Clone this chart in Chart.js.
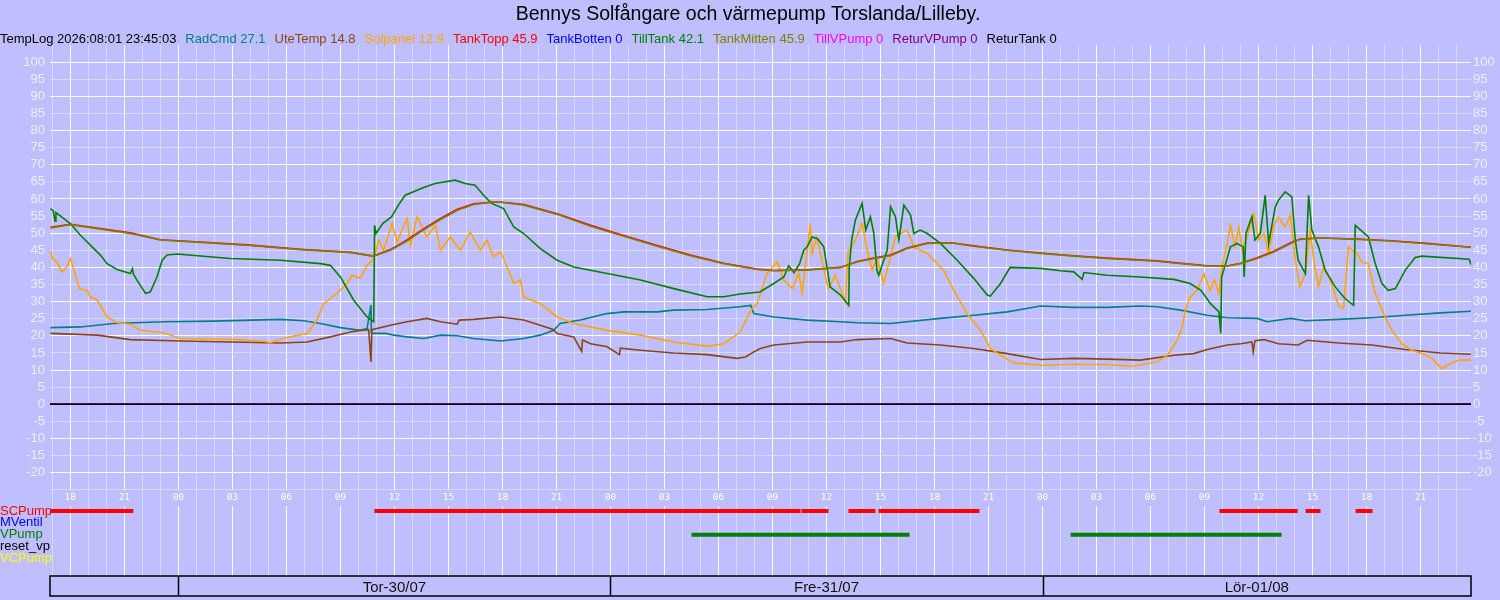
<!DOCTYPE html>
<html>
<head>
<meta charset="utf-8">
<title>Bennys Solfångare och värmepump</title>
<script src="https://cdn.jsdelivr.net/npm/chart.js@4/dist/chart.umd.min.js"></script>
<style>
  html, body { margin: 0; padding: 0; background: #bfbfff; }
  canvas { display: block; }
</style>
</head>
<body>
<canvas id="c" width="1500" height="600"></canvas>
<script>
// ── Texts ──
const TITLE   = 'Bennys Solfångare och värmepump Torslanda/Lilleby.';
const TEMPLOG = 'TempLog 2026:08:01 23:45:03';

// ── Time axis: hours counted from Tor-30/07 00:00 ──
const T_MIN = -7.13, T_MAX = 71.8;
const dayBounds = [0, 24, 48];
const dayNames  = ['Tor-30/07', 'Fre-31/07', 'Lör-01/08'];

// ── Legend ──
const seriesNames  = ['RadCmd', 'UteTemp', 'Solpanel', 'TankTopp', 'TankBotten', 'TillTank', 'TankMitten', 'TillVPump', 'ReturVPump', 'ReturTank'];
const seriesColors = ['#008080', '#8b4513', '#ffa500', '#ff0000', '#0000ff', '#008000', '#808000', '#ff00ff', '#800080', '#000000'];
const legendValues = [27.1, 14.8, 12.9, 45.9, 0, 42.1, 45.9, 0, 0, 0];

// ── Series ──
const radCmdT = [-7.1, -5.44, -3.6, -0.8, 1.96, 5.67, 6.96, 7.9, 9, 10.1, 10.48, 10.7, 10.72, 10.85, 11.5, 11.96, 12.7, 13.63, 14.56, 15.48, 16.4, 17.9, 19.18, 20.1, 20.85, 21.2, 22.33, 23.8, 24.74, 26.6, 27.5, 29.37, 31.2, 31.8, 31.96, 33.07, 34.93, 36.78, 37.7, 39.56, 40.48, 42.33, 44.18, 46.04, 47.9, 49.74, 51.6, 53.44, 54.37, 55.67, 57.15, 58.26, 59.93, 60.48, 61.78, 62.6, 64.44, 66.3, 68.15, 70.1, 71.8];
const radCmdV = [22.4, 22.6, 23.6, 24.1, 24.3, 24.8, 24.4, 23.6, 22.4, 21.6, 22.1, 29, 21, 20.7, 20.7, 20.2, 19.7, 19.2, 20.2, 20, 19.2, 18.5, 19.2, 20.2, 21.6, 23.6, 24.6, 26.5, 27, 27, 27.5, 27.7, 28.5, 28.9, 26.5, 25.5, 24.6, 24.1, 23.8, 23.6, 24.1, 25.1, 26, 27, 28.7, 28.3, 28.3, 28.7, 28.5, 27.5, 26, 25.3, 25.1, 24.1, 25.1, 24.4, 24.8, 25.3, 26, 26.7, 27.2];

const uteTempT = [-7.1, -4.5, -2.67, 0.1, 2.9, 5.67, 7.15, 8.44, 9.56, 10.1, 10.57, 10.7, 10.75, 11.78, 12.7, 13.8, 14.56, 15.48, 15.6, 16.4, 17.9, 19.18, 20.1, 20.85, 21.04, 21.96, 22.4, 22.45, 22.9, 23.82, 24.5, 24.55, 25.67, 27.5, 29.37, 31.04, 31.5, 31.96, 32.33, 33.07, 34.93, 36.78, 37.7, 39.56, 40.48, 42.33, 44.18, 46.04, 47.9, 49.74, 51.6, 53.44, 55.3, 56.4, 57.15, 58.26, 59, 59.63, 59.7, 59.8, 60.3, 61.1, 62.2, 62.7, 64.44, 66.3, 68.15, 70.1, 71.8];
const uteTempV = [20.7, 20.2, 18.9, 18.5, 18.2, 17.9, 18.2, 19.7, 21.1, 21.6, 21.8, 12.4, 21.8, 23.1, 24.1, 25.1, 24.1, 23.4, 24.6, 24.8, 25.5, 24.6, 23.1, 21.8, 20.7, 19.7, 15.5, 18.8, 17.7, 16.8, 14.5, 16.4, 15.8, 15, 14.5, 13.4, 13.8, 15.3, 16.3, 17.3, 18.2, 18.2, 18.9, 19.2, 17.9, 17.3, 16.3, 14.8, 13.1, 13.4, 13.2, 12.9, 14.3, 14.8, 16, 17.3, 17.7, 18.2, 15.3, 18.6, 18.9, 17.7, 17.3, 18.7, 17.9, 17.3, 16, 15, 14.6];

const solpanelT = [-7.1, -7.0, -6.74, -6.46, -6.2, -6.0, -5.8, -5.5, -5.07, -4.9, -4.5, -3.96, -3.4, -2.67, -2.1, -0.8, 0.1, 2.9, 4.7, 5.1, 6.2, 7.15, 7.7, 8.07, 8.8, 9.37, 9.65, 10.1, 10.48, 10.85, 11.13, 11.4, 11.87, 12.15, 12.7, 12.9, 13.26, 13.8, 14.28, 14.56, 15.1, 15.67, 16.2, 16.78, 17.15, 17.5, 17.9, 18.26, 18.63, 19.0, 19.18, 20.1, 21.04, 21.96, 23.82, 25.67, 27.5, 29.37, 30.3, 31.2, 31.8, 32.15, 32.7, 33.26, 33.63, 34.1, 34.46, 34.65, 35.1, 35.2, 35.46, 35.74, 36.1, 36.5, 37.04, 37.2, 37.6, 37.98, 38.26, 38.54, 38.8, 39.18, 39.46, 39.83, 40.1, 40.48, 40.85, 41.2, 41.6, 41.96, 42.5, 43.07, 43.8, 44.56, 45.1, 45.67, 46.4, 47.9, 49.74, 51.6, 53.07, 54.37, 54.93, 55.48, 55.76, 55.94, 56.2, 56.6, 56.96, 57.3, 57.55, 57.8, 58.0, 58.26, 58.44, 58.7, 58.9, 59.1, 59.37, 59.74, 60.0, 60.3, 60.56, 60.83, 61.1, 61.48, 61.76, 62.04, 62.3, 62.6, 62.87, 63.06, 63.33, 63.6, 63.98, 64.44, 64.72, 65.0, 65.2, 65.46, 65.74, 66.1, 66.48, 66.94, 67.4, 67.96, 68.5, 69.07, 69.63, 70.18, 70.65, 71.1, 71.8];
const solpanelV = [44.5, 42.6, 41.6, 38.7, 40.1, 42.6, 39.2, 33.8, 33.3, 31.4, 30.4, 25.5, 23.8, 23.4, 21.6, 20.9, 19.2, 19, 18.5, 18, 19.7, 20.7, 24.6, 29.4, 32.4, 35.3, 37.7, 36.8, 40.6, 42.6, 48, 45, 52.8, 47.5, 54.3, 46.5, 54.8, 48.9, 52.3, 45, 48.9, 45, 50.4, 45, 48, 43.1, 44.5, 40.1, 35.3, 36.3, 31.4, 29.4, 25.5, 23.6, 21.6, 20.2, 18.2, 17, 17.7, 21.1, 27.5, 29.4, 38.2, 41.6, 36.3, 33.8, 38.2, 32.4, 52.8, 44.1, 48.9, 42.1, 33.8, 37.7, 29.9, 44.5, 48, 52.8, 45, 39.2, 42.6, 35.3, 41.1, 48.9, 49.9, 50.9, 46, 45, 44.1, 42.1, 39.2, 33.3, 26.5, 21.6, 16.3, 14.3, 12.1, 11.4, 11.7, 11.6, 11.1, 12.4, 14.3, 18.7, 22.6, 27.5, 31.4, 33.3, 38.2, 33.3, 36.3, 32.4, 41.1, 47, 52.3, 46, 51.8, 45, 48.9, 55.8, 48, 49.9, 44.1, 51.8, 54.8, 51.8, 55.3, 42.1, 34.3, 38.2, 50.9, 42.1, 34.3, 40.1, 36.3, 28.9, 28, 46, 45, 44.1, 41.6, 41.1, 32.4, 26.5, 21.6, 17.7, 15.8, 14.8, 13.4, 10.4, 11.9, 12.9, 12.9];

const tankT = [-7.1, -6, -2.67, -1, 1.22, 4, 6.78, 9.56, 10.83, 11.78, 12.7, 13.6, 14.56, 15.5, 16.4, 17.7, 19.2, 21.04, 22.9, 24.74, 26.6, 28.44, 30.3, 32.15, 33.07, 34.93, 36.78, 37.7, 38.63, 39.56, 40.48, 41.6, 42.9, 44.18, 46.04, 47.9, 49.74, 51.6, 54.37, 55.3, 57.15, 58.26, 59, 59.93, 60.85, 61.78, 62.3, 63.44, 65.5, 67.33, 69.18, 71.8];
const tankToppV   = [51.7, 52.6, 50.1, 48.1, 47.4, 46.5, 45.3, 44.4, 43.3, 45.2, 48.0, 51.2, 54.3, 57.0, 58.6, 59.2, 58.4, 55.7, 52.3, 49.3, 46.4, 43.6, 41.2, 39.5, 39.1, 39.3, 40.0, 41.7, 42.7, 43.6, 45.7, 47.1, 47.2, 46.3, 45.1, 44.2, 43.4, 42.7, 41.9, 41.4, 40.5, 40.4, 41.2, 42.8, 44.7, 47.2, 48.3, 48.6, 48.3, 47.8, 47.1, 45.9];
const tankMittenV = [51.5, 52.5, 49.9, 48, 47.3, 46.4, 45.2, 44.4, 43.3, 45, 47.7, 50.9, 54, 56.7, 58.4, 59.2, 58.2, 55.5, 52, 49.1, 46.2, 43.4, 41.1, 39.4, 39.0, 39.2, 40, 41.6, 42.6, 43.4, 45.5, 47, 47.2, 46.2, 45, 44.1, 43.3, 42.6, 41.8, 41.3, 40.4, 40.4, 41.1, 42.6, 44.5, 47, 48.2, 48.6, 48.2, 47.7, 47, 45.9];

const tillTankT = [-7.1, -6.95, -6.85, -6.8, -6, -5.44, -4.89, -4.33, -3.96, -3.4, -2.67, -2.55, -2.5, -2.3, -1.93, -1.83, -1.56, -1.19, -0.9, -0.63, -0.07, 2.9, 5.67, 7.9, 8.44, 9, 9.74, 10.48, 10.85, 10.9, 10.98, 11.35, 11.85, 12.22, 12.6, 13.52, 14.26, 15.37, 15.93, 16.48, 17.04, 17.4, 18.07, 18.63, 19.18, 20.11, 21.04, 21.96, 23.82, 25.67, 27.52, 29.37, 30.3, 31.2, 32.3, 33.07, 33.63, 33.9, 34.2, 34.5, 34.74, 34.93, 35.2, 35.5, 35.85, 36.2, 36.78, 37.24, 37.26, 37.4, 37.6, 37.98, 38.18, 38.44, 38.63, 38.8, 38.9, 39.37, 39.56, 39.83, 40.02, 40.3, 40.67, 40.85, 41.2, 41.6, 42.33, 43.26, 44.18, 44.93, 45.1, 45.67, 46.2, 47.9, 49.0, 49.74, 50.2, 50.3, 51.6, 53.44, 55.3, 56.2, 56.8, 57.33, 57.8, 57.9, 57.95, 58.17, 58.44, 58.8, 59.15, 59.2, 59.3, 59.63, 59.8, 60.1, 60.37, 60.56, 60.93, 61.1, 61.48, 61.85, 62.04, 62.2, 62.6, 62.78, 62.96, 63.33, 63.7, 64.26, 64.8, 65.28, 65.37, 66.1, 66.48, 66.85, 67.2, 67.6, 68.15, 68.7, 69.07, 71.7, 71.8];
const tillTankV = [57.2, 56.5, 53.5, 56, 52.8, 49.4, 46.5, 43.6, 41.1, 39.4, 38.2, 39.6, 38, 36.3, 33.3, 32.4, 32.8, 37.2, 42.1, 43.6, 43.9, 42.6, 42.1, 41.1, 40.6, 37.2, 30.4, 25.5, 24.1, 52.3, 49.9, 52.8, 54.8, 58.2, 61.1, 63.1, 64.5, 65.5, 64.5, 64, 60.6, 58.7, 57.2, 51.8, 49.9, 45.5, 42.1, 40.1, 38.2, 36.3, 33.8, 31.4, 31.4, 32.2, 32.8, 35.3, 37.2, 40.5, 38.5, 41, 45, 46, 48.9, 48.4, 46, 34.3, 31.9, 28.9, 39.7, 48, 53.8, 58.7, 50.9, 54.8, 49.9, 39.2, 37.7, 45, 57.7, 54.8, 48, 58.2, 55.3, 49.9, 50.9, 49.9, 47, 42.1, 36.8, 31.9, 31.6, 35.3, 40, 39.7, 39, 38.7, 36.5, 38.5, 37.7, 37.2, 36.5, 35.3, 33.3, 29.4, 27, 20.7, 37.2, 41.1, 46, 47, 46, 37.2, 49.9, 54.8, 48, 50, 61.1, 47, 57.7, 59.6, 62.1, 60.6, 48, 42.1, 38.2, 61.1, 50.9, 46, 39.2, 34.3, 30.9, 28.9, 52.3, 48.9, 41.1, 35.3, 33.3, 33.8, 39.2, 42.9, 43.3, 42.4, 40.8];

const zeroT       = [T_MIN, T_MAX];
const tankBottenV = [0, 0];
const tillVPumpV  = [0, 0];
const returVPumpV = [0, 0];
const returTankV  = [0, 0];

// ── On/off rows (start hour, end hour) ──
const statusNames  = ['SCPump', 'MVentil', 'VPump', 'reset_vp', 'VCPump'];
const statusColors = ['#ff0000', '#0000ff', '#008000', '#000000', '#ffff00'];
const scPumpOn   = [[-7.13, -2.5], [10.89, 34.56], [34.61, 36.11], [37.22, 38.72], [38.89, 44.5], [57.83, 62.17], [62.61, 63.44], [65.39, 66.33]];
const mVentilOn  = [];
const vPumpOn    = [[28.5, 40.61], [49.56, 61.28]];
const resetVpOn  = [];
const vcPumpOn   = [];

const BG         = '#bfbfff';
const GRID_MAJOR = '#ffffff';
const GRID_MINOR = '#d9d9ff';
const SANS       = '"Liberation Sans", Arial, sans-serif';

const pts = (t, v) => t.map((x, i) => ({ x, y: v[i] }));
const bars = (list, row) => list.flatMap(([a, b]) => [{ x: a, y: row }, { x: b, y: row }, { x: b, y: null }]);

const seriesData = [
  pts(radCmdT, radCmdV),
  pts(uteTempT, uteTempV),
  pts(solpanelT, solpanelV),
  pts(tankT, tankToppV),
  pts(zeroT, tankBottenV),
  pts(tillTankT, tillTankV),
  pts(tankT, tankMittenV),
  pts(zeroT, tillVPumpV),
  pts(zeroT, returVPumpV),
  pts(zeroT, returTankV),
];

const tempSets = seriesData.map((d, i) => ({
  label: seriesNames[i],
  data: d,
  borderColor: seriesColors[i],
  borderWidth: 1.6,
  pointRadius: 0,
  tension: 0,
  yAxisID: 'y',
  order: -i,           // later series drawn on top
}));

const statusSets = [scPumpOn, mVentilOn, vPumpOn, resetVpOn, vcPumpOn].map((list, row) => ({
  label: statusNames[row],
  data: bars(list, row),
  borderColor: statusColors[row],
  borderWidth: 4,
  borderCapStyle: 'butt',
  pointRadius: 0,
  spanGaps: false,
  yAxisID: 'yS',
  order: -20,
}));

// ── Title, legend line, row labels and day boxes ──
const textPlugin = {
  id: 'texts',
  afterDraw(chart) {
    const { ctx, chartArea: ca, scales } = chart;
    ctx.save();

    ctx.fillStyle = '#000';
    ctx.font = '19.5px ' + SANS;
    ctx.textAlign = 'center';
    ctx.textBaseline = 'alphabetic';
    ctx.fillText(TITLE, 748, 20);

    ctx.font = '13px ' + SANS;
    ctx.textAlign = 'left';
    const items = [{ t: TEMPLOG, c: '#000' }]
      .concat(seriesNames.map((n, i) => ({ t: n + ' ' + legendValues[i], c: seriesColors[i] })));
    let x = 0;
    items.forEach(it => {
      ctx.fillStyle = it.c;
      ctx.fillText(it.t, x, 43);
      x += ctx.measureText(it.t).width + 9;
    });

    ctx.font = '13px ' + SANS;
    ctx.textBaseline = 'middle';
    statusNames.forEach((n, i) => {
      ctx.fillStyle = statusColors[i];
      ctx.fillText(n, 0, scales.yS.getPixelForValue(i));
    });

    // day boxes
    const top = ca.bottom, bot = ca.bottom + 20;
    ctx.strokeStyle = '#000';
    ctx.lineWidth = 1.5;
    ctx.strokeRect(ca.left, top, ca.right - ca.left, bot - top);
    const edges = dayBounds.map(b => scales.x.getPixelForValue(b)).concat([ca.right]);
    ctx.beginPath();
    dayBounds.forEach((b, i) => {
      const px = Math.round(edges[i]) + 0.5;
      ctx.moveTo(px, top);
      ctx.lineTo(px, bot);
    });
    ctx.stroke();
    ctx.fillStyle = '#111';
    ctx.font = '15px ' + SANS;
    ctx.textAlign = 'center';
    ctx.textBaseline = 'alphabetic';
    dayNames.forEach((n, i) => ctx.fillText(n, (edges[i] + edges[i + 1]) / 2, top + 16));

    ctx.restore();
  },
};

const tempTicks = s => {
  s.ticks = [];
  for (let v = -25; v <= 100; v += 5) s.ticks.push({ value: v });
};
const tempTickFont = { family: SANS, size: 13 };

new Chart(document.getElementById('c'), {
  type: 'line',
  data: { datasets: tempSets.concat(statusSets) },
  options: {
    responsive: false,
    animation: false,
    normalized: true,
    layout: { padding: { top: 45, bottom: 24, left: 0, right: 0 } },
    plugins: { legend: { display: false }, title: { display: false }, tooltip: { enabled: false } },
    scales: {
      x: {
        type: 'linear', position: 'bottom', min: T_MIN, max: T_MAX,
        afterBuildTicks: s => {
          s.ticks = [];
          for (let h = Math.ceil(T_MIN); h <= Math.floor(T_MAX); h++) s.ticks.push({ value: h });
        },
        // labels sit inside the plot (mirror), so the axis takes no room
        afterFit: s => { s.height = 0; s.paddingLeft = 0; s.paddingRight = 0; },
        border: { display: false },
        grid: {
          drawTicks: false,
          color: c => (c.tick && c.tick.value % 3 === 0) ? GRID_MAJOR : GRID_MINOR,
        },
        ticks: {
          autoSkip: false, maxRotation: 0, minRotation: 0,
          mirror: true, padding: 73,
          color: '#ffffff',
          font: { family: '"DejaVu Sans Mono", monospace', size: 9.5 },
          showLabelBackdrop: c => !!(c.tick && c.tick.value % 3 === 0),
          backdropColor: BG,
          backdropPadding: { top: 1, bottom: 3, left: 1, right: 1 },
          callback: v => v % 3 === 0 ? String(((v % 24) + 24) % 24).padStart(2, '0') : '',
        },
      },
      y: {
        position: 'left', min: -50.2, max: 105,
        afterBuildTicks: tempTicks,
        afterFit: s => { s.width = 50; },
        border: { display: false },
        grid: {
          drawTicks: false,
          color: c => (c.tick && c.tick.value % 10 === 0) ? GRID_MAJOR : GRID_MINOR,
        },
        ticks: {
          padding: 5, color: '#eeeeff', font: tempTickFont,
          callback: v => v >= -20 ? String(v) : '',
        },
      },
      y2: {
        position: 'right', min: -50.2, max: 105,
        afterBuildTicks: tempTicks,
        afterFit: s => { s.width = 29; },
        border: { display: false },
        grid: { display: false, drawTicks: false },
        ticks: {
          padding: 2, color: '#eeeeff', font: tempTickFont,
          callback: v => v >= -20 ? String(v) : '',
        },
      },
      yS: { display: false, min: -39.32, max: 5.49, reverse: true },
    },
  },
  plugins: [textPlugin],
});
</script>
</body>
</html>
